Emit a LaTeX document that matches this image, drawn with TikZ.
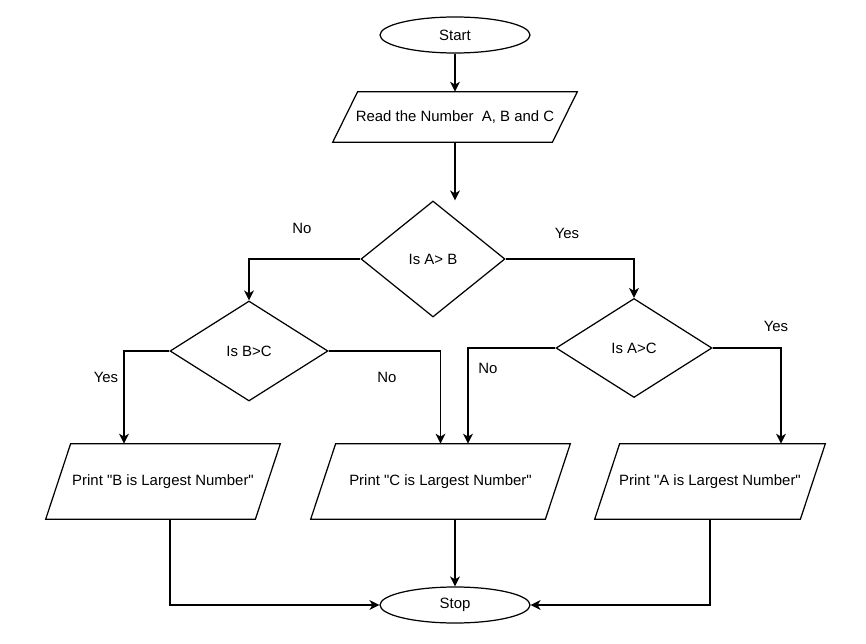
\documentclass[tikz,border=0pt]{standalone}
\usepackage{fontspec}
\setmainfont{Liberation Sans}
\usetikzlibrary{arrows.meta,positioning,calc,shapes.geometric}

\begin{document}
\begin{tikzpicture}[
  font=\fontsize{8.5}{10}\selectfont,
  term/.style={draw,ellipse,minimum width=3cm,minimum height=0.72cm,
               inner sep=0pt,line width=0.7pt},
  io/.style={rectangle,inner sep=0pt},
  test/.style={draw,diamond,inner sep=0pt,line width=0.7pt},
  ev/.style={-{Stealth[length=2mm,width=2mm,inset=0.6mm]},line width=0.7pt},
  ln/.style={line width=0.7pt,line join=miter},
  lab/.style={inner sep=1pt}]

  \useasboundingbox (0,0) rectangle (17.32,-12.88);

  \node[term] (start) at (9.10,-0.70) {Start};
  \node[io,minimum width=4.88cm,minimum height=1cm] (read) at (9.10,-2.34)
    {Read the Number\ \ A, B and C};

  % decisions
  \node[test,minimum width=2.88cm,minimum height=2.32cm] (ab) at (8.66,-5.18) {Is A> B};
  \node[test,minimum width=3.16cm,minimum height=2cm] (bc) at (4.98,-7.02) {Is B>C};
  \node[test,minimum width=3.12cm,minimum height=1.98cm] (ac) at (12.68,-6.96) {Is A>C};

  % outputs
  \node[io,minimum width=4.68cm,minimum height=1.5cm] (pb) at (3.26,-9.63)
    {Print \textquotedbl B is Largest Number\textquotedbl};
  \node[io,minimum width=5.18cm,minimum height=1.5cm] (pc) at (8.81,-9.63)
    {Print \textquotedbl C is Largest Number\textquotedbl};
  \node[io,minimum width=4.60cm,minimum height=1.5cm] (pa) at (14.20,-9.63)
    {Print \textquotedbl A is Largest Number\textquotedbl};
  \node[term] (stop) at (9.10,-12.10) {Stop};

  % parallelogram outlines
  \foreach \n in {read,pb,pc,pa}
    \draw[ln] ([xshift=0.5cm]\n.north west) -- (\n.north east)
      -- ([xshift=-0.5cm]\n.south east) -- (\n.south west) -- cycle;

  \draw[ev] (start.south) -- (read.north);
  \draw[ev] (read.south) -- (read.south |- ab.north);

  \draw[ev] (ab.west) -| (bc.north);
  \node[lab] (no1) at (6.04,-4.56) {No};
  \draw[ev] (ab.east) -| (ac.north);
  \node[lab] (yes1) at (11.34,-4.66) {Yes};

  \draw[ev] (bc.west) -| ([xshift=-0.78cm]pb.north);
  \node[lab] (yes2) at (2.12,-7.54) {Yes};
  \draw[ev] (bc.east) -| (pc.north);
  \node[lab] (no2) at (7.74,-7.54) {No};

  \draw[ev] (ac.west) -| ([xshift=0.55cm]pc.north);
  \node[lab] (no3) at (9.76,-7.36) {No};
  \draw[ev] (ac.east) -| ([xshift=1.42cm]pa.north);
  \node[lab] (yes3) at (15.52,-6.52) {Yes};

  % to stop
  \draw[ev] ([xshift=0.14cm]pb.south) |- (stop.west);
  \draw[ev] (stop.north |- pc.south) -- (stop.north);
  \draw[ev] (pa.south) |- (stop.east);
\end{tikzpicture}
\end{document}
